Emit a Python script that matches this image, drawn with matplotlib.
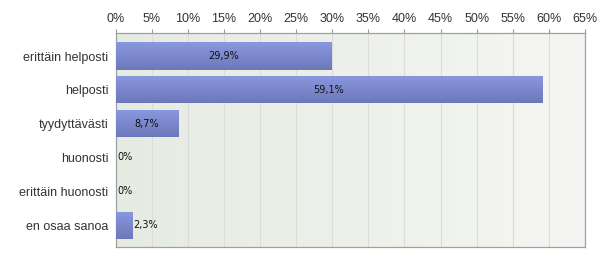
import numpy as np
import matplotlib
matplotlib.use("Agg")
import matplotlib.pyplot as plt
from matplotlib.colors import LinearSegmentedColormap

# ---------- data ----------
categories = ["erittäin helposti", "helposti", "tyydyttävästi", "huonosti",
              "erittäin huonosti", "en osaa sanoa"]
values = [29.9, 59.1, 8.7, 0.0, 0.0, 2.3]
value_labels = ["29,9%", "59,1%", "8,7%", "0%", "0%", "2,3%"]
x_ticks = list(range(0, 70, 5))

plt.rcParams["font.family"] = ["Liberation Sans", "DejaVu Sans"]

fig = plt.figure(figsize=(6.0, 2.62), dpi=100)
ax = fig.add_axes([0.1925, 0.057, 0.7825, 0.817])

ax.set_xlim(0, 65)
ax.set_ylim(len(categories) - 0.5 + 0.15, -0.5 - 0.18)

# background gradient (left darker green-grey, right lighter)
bg = LinearSegmentedColormap.from_list("bg", ["#e6ebe2", "#f5f6f3"])
ax.imshow(np.linspace(0, 1, 256).reshape(1, -1), cmap=bg, aspect="auto",
          extent=[0, 1, 0, 1], transform=ax.transAxes, zorder=0)

for t in x_ticks:
    ax.axvline(t, color="#dcdcdc", lw=0.8, zorder=1)

# bars with vertical gradient
bar_cmap = LinearSegmentedColormap.from_list("bar", ["#8a98e0", "#6c78b8"])
y = np.arange(len(categories))
bars = ax.barh(y, values, height=0.8, color="#7b88cc", zorder=2)
grad = np.linspace(0, 1, 64).reshape(-1, 1)
for b in bars:
    if b.get_width() <= 0:
        continue
    x0, y0 = b.get_x(), b.get_y()
    im = ax.imshow(grad, cmap=bar_cmap, aspect="auto", zorder=3,
                   extent=[x0, x0 + b.get_width(), y0 + b.get_height(), y0])
    im.set_clip_path(b)

for i, (v, lab) in enumerate(zip(values, value_labels)):
    if v >= 5:
        ax.text(v / 2, i, lab, ha="center", va="center", fontsize=7,
                family="DejaVu Sans", color="#111111", zorder=4)
    else:
        ax.text(v + 0.2, i, lab, ha="left", va="center", fontsize=7,
                family="DejaVu Sans", color="#111111", zorder=4)

ax.set_yticks(y)
ax.set_yticklabels(categories, fontsize=9, color="#333333")
ax.tick_params(axis="y", length=0, pad=5)

ax.xaxis.tick_top()
ax.set_xticks(x_ticks)
ax.set_xticklabels([f"{t}%" for t in x_ticks], fontsize=9, color="#333333")
ax.tick_params(axis="x", length=3, width=0.8, color="#999999", pad=3)

for side in ["top", "left", "right", "bottom"]:
    ax.spines[side].set_color("#a0a0a0")
    ax.spines[side].set_linewidth(0.9)

fig.savefig("out.png", dpi=100)
